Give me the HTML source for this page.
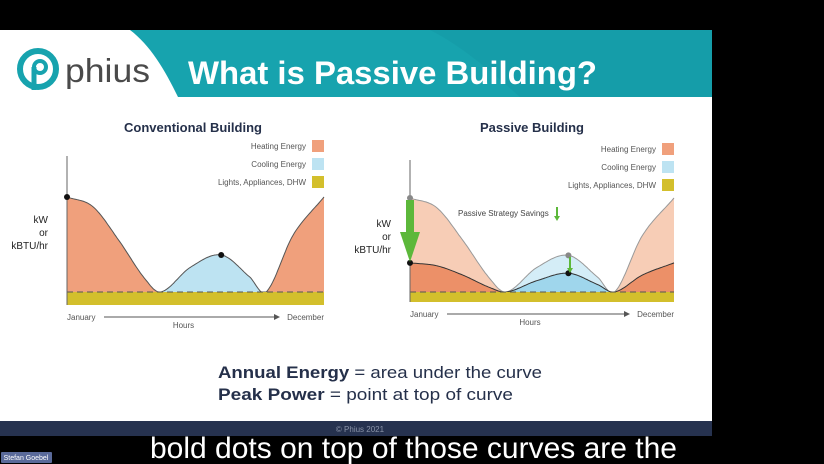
<!DOCTYPE html>
<html><head><meta charset="utf-8">
<style>
html,body{margin:0;padding:0;background:#000;width:824px;height:464px;overflow:hidden;font-family:"Liberation Sans",sans-serif}
</style></head><body>
<svg width="824" height="464" viewBox="0 0 824 464" xmlns="http://www.w3.org/2000/svg">
<rect x="0" y="0" width="824" height="464" fill="#000"/>
<g>
<rect x="0" y="30" width="712" height="392" fill="#fff"/>
<path d="M130 30 L712 30 L712 97 L178 97 C165 70 150 45 130 30 Z" fill="#17a3ae"/>
<path d="M430 30 L712 30 L712 97 L520 97 C490 70 460 45 430 30Z" fill="#1497a3" opacity="0.5"/>
<g>
<circle cx="38" cy="69" r="18" fill="none" stroke="#17a3ae" stroke-width="6"/>
<circle cx="40" cy="67" r="6" fill="none" stroke="#17a3ae" stroke-width="4"/>
<path d="M34 67 L34 90" stroke="#17a3ae" stroke-width="5"/>
<text x="65" y="82" font-size="33" fill="#4a4a4a" textLength="85" lengthAdjust="spacingAndGlyphs">phius</text>
</g>
<text x="188" y="84" font-size="32" font-weight="bold" fill="#fff" textLength="409" lengthAdjust="spacingAndGlyphs">What is Passive Building?</text>
<text x="193" y="132" font-size="13" font-weight="bold" fill="#25304a" text-anchor="middle">Conventional Building</text>
<text x="532" y="132" font-size="13" font-weight="bold" fill="#25304a" text-anchor="middle">Passive Building</text>
<g id="c1"></g>
<g id="c2"></g>
<text x="218" y="378" font-size="17" fill="#25304a" textLength="324" lengthAdjust="spacingAndGlyphs"><tspan font-weight="bold">Annual Energy</tspan> = area under the curve</text>
<text x="218" y="400" font-size="17" fill="#25304a" textLength="295" lengthAdjust="spacingAndGlyphs"><tspan font-weight="bold">Peak Power</tspan> = point at top of curve</text>
<rect x="0" y="421" width="712" height="15" fill="#26324f"/>
<text x="360" y="432" font-size="8" fill="#8a93a8" text-anchor="middle">© Phius 2021</text>
</g>
<text x="150" y="458" font-size="30" fill="#fff" textLength="527" lengthAdjust="spacingAndGlyphs">bold dots on top of those curves are the</text>
<rect x="1" y="452" width="51" height="11" fill="#5a6a9a" rx="1"/>
<text x="26" y="460" font-size="7" fill="#fff" text-anchor="middle">Stefan Goebel</text>
</svg>
<script>
const tPos=[0,0.1,0.2,0.3,0.365,0.48,0.6,0.71,0.775,0.88,1];
const convVals=[10,9,5.5,1.5,0,2.6,3.9,1.6,0,6,10];
const passVals=[3.1,2.8,1.8,0.5,0,1.2,2.0,0.8,0,1.8,3.1];
const coolRange=[0.365,0.775];
const legendLabels=["Heating Energy","Cooling Energy","Lights, Appliances, DHW"];
const NS="http://www.w3.org/2000/svg";
function mk(p,tag,a){const e=document.createElementNS(NS,tag);for(const k in a)e.setAttribute(k,a[k]);p.appendChild(e);return e;}
function interp(vals,t){let i=0;while(i<tPos.length-2&&t>tPos[i+1])i++;
 const p0=vals[Math.max(i-1,0)],p1=vals[i],p2=vals[i+1],p3=vals[Math.min(i+2,vals.length-1)];
 const t0=tPos[Math.max(i-1,0)],t1=tPos[i],t2=tPos[i+1],t3=tPos[Math.min(i+2,tPos.length-1)];
 const u=(t-t1)/(t2-t1);const m1=(p2-p0)/((t2-t0)||1)*(t2-t1),m2=(p3-p1)/((t3-t1)||1)*(t2-t1);
 const u2=u*u,u3=u2*u;return (2*u3-3*u2+1)*p1+(u3-2*u2+u)*m1+(-2*u3+3*u2)*p2+(u3-u2)*m2;}
function chart(g,ax){
 const X=t=>ax.x0+t*(ax.x1-ax.x0),Y=v=>ax.base-v*ax.k;
 function area(vals,a,b,fill,name){let d=`M${X(a)},${ax.base}`;for(let t=a;t<=b+1e-9;t+=0.005)d+=` L${X(t).toFixed(1)},${Y(Math.max(0,interp(vals,t))).toFixed(1)}`;d+=` L${X(b)},${ax.base}Z`;
  const p=mk(g,'path',{d,fill});}
 function line(vals,stroke,name){let d='';for(let t=0;t<=1.0001;t+=0.005)d+=(d?' L':'M')+X(Math.min(t,1)).toFixed(1)+','+Y(Math.max(0,interp(vals,Math.min(t,1)))).toFixed(1);
  const p=mk(g,'path',{d,fill:'none',stroke,'stroke-width':1});}
 ax.series.forEach(s=>{area(s.vals,0,coolRange[0],s.heat,s.name+'-heating-area');area(s.vals,coolRange[0],coolRange[1],s.cool,s.name+'-cooling-area');area(s.vals,coolRange[1],1,s.heat,s.name+'-heating-area-late');});
 ax.series.forEach(s=>line(s.vals,s.line,s.name+'-curve'));
 const y=mk(g,'rect',{x:ax.x0,y:ax.base,width:ax.x1-ax.x0,height:ax.band,fill:'#d3bf2c'});
 
 const dl=mk(g,'line',{x1:ax.x0,x2:ax.x1,y1:ax.base,y2:ax.base,stroke:'#555','stroke-dasharray':'6,4','stroke-width':1});
 
 const a=mk(g,'line',{x1:ax.x0,x2:ax.x0,y1:ax.top,y2:ax.base+ax.band,stroke:'#666','stroke-width':1});
 
 ax.series.forEach(s=>{[0,0.6].forEach(t=>{const c=mk(g,'circle',{cx:X(t),cy:Y(interp(s.vals,t)),r:3,fill:s.dot});
  });});
 const lab=[["kW",-13],["or",0],["kBTU/hr",13]];
 lab.forEach(([s,o])=>{const t=mk(g,'text',{x:ax.x0-19,y:ax.ylab+o,'font-size':10,'text-anchor':'end',fill:'#222'});t.textContent=s;
  });
 const bl=ax.base+ax.band;
 const j=mk(g,'text',{x:ax.x0,y:bl+15,'font-size':8,fill:'#555'});j.textContent='January';
 const dc=mk(g,'text',{x:ax.x1,y:bl+15,'font-size':8,fill:'#555','text-anchor':'end'});dc.textContent='December';
 const ar=mk(g,'line',{x1:ax.x0+37,x2:ax.x1-50,y1:bl+12,y2:bl+12,stroke:'#555'});
 const ah=mk(g,'path',{d:`M${ax.x1-50},${bl+9} L${ax.x1-44},${bl+12} L${ax.x1-50},${bl+15}Z`,fill:'#555'});
 const h=mk(g,'text',{x:(ax.x0+ax.x1)/2-12,y:bl+23,'font-size':8,fill:'#555','text-anchor':'middle'});h.textContent='Hours';
 const cols=['#f0a07c','#bde3f2','#d3bf2c'];
 legendLabels.forEach((l,i)=>{const yy=ax.leg+i*18;const r=mk(g,'rect',{x:ax.x1-12,y:yy,width:12,height:12,fill:cols[i]});
  
  const t=mk(g,'text',{x:ax.x1-18,y:yy+9,'font-size':8,fill:'#555','text-anchor':'end'});t.textContent=l;});
 return {X,Y};
}
chart(document.getElementById('c1'),{x0:67,x1:324,base:292,k:9.5,band:13,top:156,ylab:236,leg:140,
 series:[{name:'conventional',vals:convVals,heat:'#f0a07c',cool:'#bde3f2',line:'#555',dot:'#111'}]});
const g2=document.getElementById('c2');
const s2=chart(g2,{x0:410,x1:674,base:292,k:9.4,band:10,top:160,ylab:240,leg:143,
 series:[{name:'original',vals:convVals,heat:'#f7cdb6',cool:'#d4edf7',line:'#999',dot:'#888'},
         {name:'passive',vals:passVals,heat:'#ec9068',cool:'#9fd6ec',line:'#333',dot:'#111'}]});
const big=document.createElementNS(NS,'path');
big.setAttribute('d','M406,200 L414,200 L414,232 L420,232 L410,262 L400,232 L406,232Z');big.setAttribute('fill','#5cb83a');
g2.appendChild(big);
const sm=document.createElementNS(NS,'path');
sm.setAttribute('d','M569,257 L569,268 L567,268 L570,273 L573,268 L571,268 L571,257Z');sm.setAttribute('fill','#5cb83a');
g2.appendChild(sm);
const lt=document.createElementNS(NS,'text');lt.setAttribute('x','458');lt.setAttribute('y','216');lt.setAttribute('font-size','8');lt.setAttribute('fill','#444');
lt.textContent='Passive Strategy Savings';g2.appendChild(lt);
const la=document.createElementNS(NS,'path');la.setAttribute('d','M556,207 L556,216 L554,216 L557,221 L560,216 L558,216 L558,207Z');la.setAttribute('fill','#5cb83a');
g2.appendChild(la);
</script>
</body></html>
